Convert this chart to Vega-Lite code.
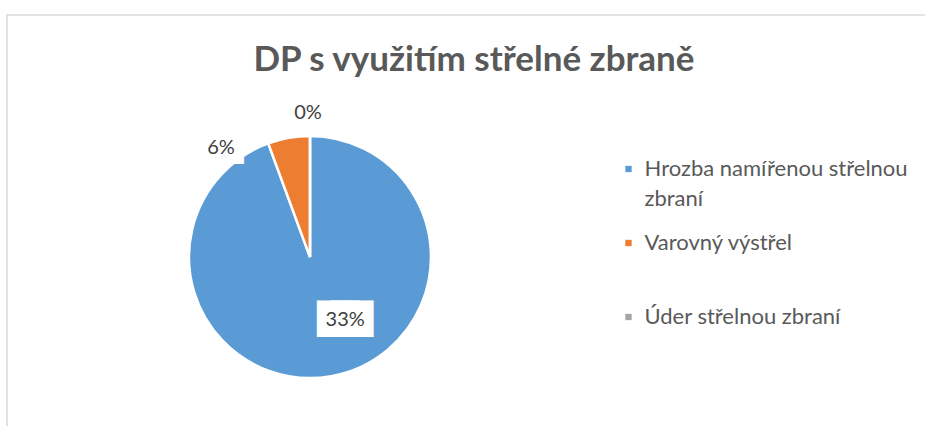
{
  "$schema": "https://vega.github.io/schema/vega-lite/v6.json",
  "width": 934,
  "height": 430,
  "autosize": {"type": "none"},
  "padding": {"left": 7, "top": 15, "right": 0, "bottom": 0},
  "background": "white",
  "config": {
    "view": {"stroke": "#d9d9d9", "strokeWidth": 1.5},
    "font": "Lato",
    "style": {"guide-label": {"lineHeight": 30}}
  },
  "title": {
    "text": "DP s využitím střelné zbraně",
    "font": "Lato",
    "fontSize": 35,
    "fontWeight": "bold",
    "color": "#595959",
    "anchor": "middle",
    "frame": "group",
    "orient": "top",
    "offset": -63
  },
  "data": {
    "values": [
      {"category": "Hrozba namířenou střelnou zbraní", "value": 94.4, "label": "33%", "order": 1},
      {"category": "Varovný výstřel", "value": 5.6, "label": "6%", "order": 2},
      {"category": "Úder střelnou zbraní", "value": 0, "label": "0%", "order": 3}
    ]
  },
  "encoding": {
    "theta": {"field": "value", "type": "quantitative", "stack": true},
    "order": {"field": "order", "type": "quantitative"},
    "x": {"datum": 0.3244, "type": "quantitative", "scale": {"domain": [0, 1]}, "axis": null},
    "y": {"datum": 0.4372, "type": "quantitative", "scale": {"domain": [0, 1]}, "axis": null}
  },
  "layer": [
    {
      "mark": {"type": "arc", "outerRadius": 121, "stroke": "white", "strokeWidth": 2.5},
      "encoding": {
        "color": {
          "field": "category",
          "type": "nominal",
          "scale": {
            "domain": ["Hrozba namířenou střelnou zbraní", "Varovný výstřel", "Úder střelnou zbraní"],
            "range": ["#5b9bd5", "#ed7d31", "#a5a5a5"]
          },
          "legend": {
            "title": null,
            "orient": "none",
            "legendX": 610.5,
            "legendY": 143,
            "symbolType": "square",
            "symbolSize": 40,
            "symbolStrokeWidth": 0,
            "labelFont": "Lato",
            "labelFontSize": 22,
            "labelColor": "#595959",
            "labelLimit": 400,
            "labelOffset": 5,
            "labelBaseline": "middle",
            "gridAlign": "all",
            "rowPadding": 22,
            "labelExpr": "datum.label == 'Hrozba namířenou střelnou zbraní' ? ['Hrozba namířenou střelnou', 'zbraní'] : datum.label"
          }
        }
      }
    },
    {
      "mark": {"type": "text", "radius": 64, "dx": 24, "dy": 0, "font": "DejaVu Sans", "fontSize": 18, "fill": "white", "stroke": "white", "strokeWidth": 15, "strokeJoin": "miter"},
      "encoding": {
        "detail": {"field": "category"},
        "text": {"condition": {"test": "datum.category == 'Hrozba namířenou střelnou zbraní'", "value": "███"}, "value": ""}
      }
    },
    {
      "mark": {"type": "text", "radius": 140, "dx": -64.5, "dy": 29.3, "font": "DejaVu Sans", "fontSize": 11, "fill": "white", "stroke": "white", "strokeWidth": 20, "strokeJoin": "miter"},
      "encoding": {
        "detail": {"field": "category"},
        "text": {"condition": {"test": "datum.category == 'Varovný výstřel'", "value": "███"}, "value": ""}
      }
    },
    {
      "mark": {"type": "text", "radius": 64, "dx": 24, "dy": 0, "font": "Lato", "fontSize": 20, "color": "#404040"},
      "encoding": {
        "detail": {"field": "category"},
        "text": {"condition": {"test": "datum.category == 'Hrozba namířenou střelnou zbraní'", "field": "label"}, "value": ""}
      }
    },
    {
      "mark": {"type": "text", "radius": 140, "dx": -64.5, "dy": 29.3, "font": "Lato", "fontSize": 20, "color": "#404040"},
      "encoding": {
        "detail": {"field": "category"},
        "text": {"condition": {"test": "datum.category == 'Varovný výstřel'", "field": "label"}, "value": ""}
      }
    },
    {
      "mark": {"type": "text", "radius": 144, "dx": -2, "dy": 0, "font": "Lato", "fontSize": 20, "color": "#404040"},
      "encoding": {
        "detail": {"field": "category"},
        "text": {"condition": {"test": "datum.category == 'Úder střelnou zbraní'", "field": "label"}, "value": ""}
      }
    }
  ]
}
